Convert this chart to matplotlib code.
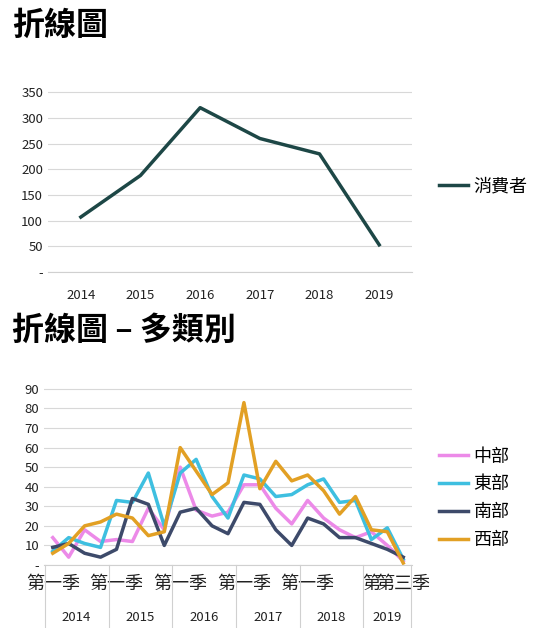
import matplotlib.pyplot as plt
import numpy as np

plt.rcParams['font.family'] = ['Noto Sans CJK TC', 'DejaVu Sans']

years = ['2014', '2015', '2016', '2017', '2018', '2019']
consumer = [107, 188, 320, 260, 230, 53]

quarters_per_year = [4, 4, 4, 4, 4, 3]
q_labels = ['第一季', '', '', '', '第一季', '', '', '', '第一季', '', '', '',
            '第一季', '', '', '', '第一季', '', '', '', '第', '', '第三季']
central = [14, 4, 18, 12, 13, 12, 29, 18, 50, 28, 25, 27, 41, 41, 29, 21, 33, 24, 18, 14, 17, 10, 2]
east = [7, 14, 11, 9, 33, 32, 47, 20, 47, 54, 35, 24, 46, 44, 35, 36, 41, 44, 32, 33, 13, 19, 3]
south = [9, 11, 6, 4, 8, 34, 31, 10, 27, 29, 20, 16, 32, 31, 18, 10, 24, 21, 14, 14, 11, 8, 4]
west = [6, 11, 20, 22, 26, 24, 15, 17, 60, 48, 36, 42, 83, 39, 53, 43, 46, 38, 26, 35, 18, 17, 1]

fig = plt.figure(figsize=(5.43, 6.28), dpi=100)
W, H = 543, 628

def style(ax):
    for s in ax.spines.values():
        s.set_visible(False)
    ax.spines['bottom'].set_visible(True)
    ax.spines['bottom'].set_color('#d0d0d0')
    ax.grid(axis='y', color='#d8d8d8', lw=0.8)
    ax.set_axisbelow(True)
    ax.tick_params(length=0, labelsize=9.5, colors='#222222')

# top chart
fig.text(12/W, 1-26/H, '折線圖', fontsize=23, fontweight='bold', va='center')
ax1 = fig.add_axes([48/W, 1-272/H, 364/W, 190/H])
style(ax1)
x1 = np.arange(len(years))
ax1.plot(x1, consumer, color='#1d4746', lw=2.5, label='消費者')
ax1.set_xlim(-0.55, 5.55)
ax1.set_ylim(0, 370)
ax1.set_yticks(range(0, 351, 50))
ax1.set_yticklabels(['-'] + [str(v) for v in range(50, 351, 50)])
ax1.set_xticks(x1)
ax1.set_xticklabels(years)
ax1.tick_params(axis='x', pad=12)
ax1.legend(loc='center left', bbox_to_anchor=(1.03, 0.45), frameon=False,
           fontsize=13, handlelength=1.6, handletextpad=0.3)

# bottom chart
fig.text(12/W, 1-331/H, '折線圖 – 多類別', fontsize=23, fontweight='bold', va='center')
ax2 = fig.add_axes([44/W, 1-565/H, 368/W, 180/H])
style(ax2)
x2 = np.arange(len(central))
series = [(central, '#ec8ae8', '中部'), (east, '#3ebfe0', '東部'),
          (south, '#3d4a6a', '南部'), (west, '#e2a024', '西部')]
for vals, c, name in series:
    ax2.plot(x2, vals, color=c, lw=2.5, label=name)
ax2.set_xlim(-0.55, len(x2) - 0.45)
ax2.set_ylim(0, 92)
ax2.set_yticks(range(0, 91, 10))
ax2.set_yticklabels(['-'] + [str(v) for v in range(10, 91, 10)])
ax2.set_xticks(x2)
ax2.set_xticklabels(q_labels, fontsize=13)
ax2.tick_params(axis='x', pad=7)
ax2.legend(loc='center left', bbox_to_anchor=(1.03, 0.37), frameon=False,
           fontsize=13, handlelength=1.6, handletextpad=0.3, labelspacing=0.55)

# year groups below the quarter labels
start = 0
bounds = [-0.5]
for y, n in zip(years, quarters_per_year):
    mid = start + (n - 1) / 2
    ax2.text(mid, -0.29, y, transform=ax2.get_xaxis_transform(), ha='center',
             va='center', fontsize=9.5, color='#222222')
    start += n
    bounds.append(start - 0.5)
for b in bounds:
    ax2.plot([b, b], [0, -0.42], transform=ax2.get_xaxis_transform(),
             color='#d0d0d0', lw=0.8, clip_on=False)

fig.savefig('out.png', dpi=100)
